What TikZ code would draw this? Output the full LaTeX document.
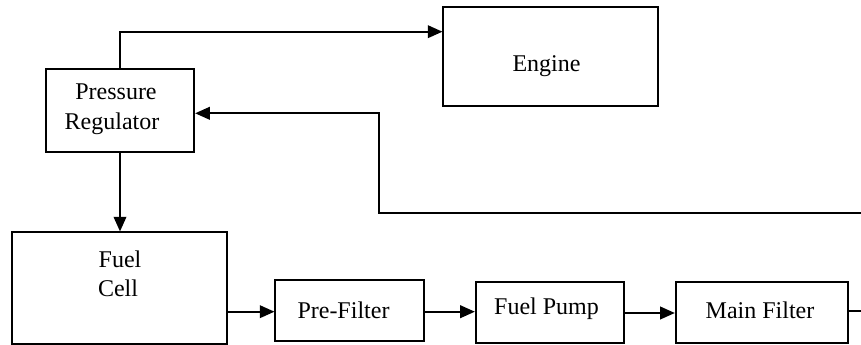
\documentclass[tikz,border=0pt]{standalone}
\usepackage{fontspec}
\setmainfont{Liberation Serif}
\usetikzlibrary{fit,arrows.meta}
\begin{document}
\begin{tikzpicture}[x=0.75pt,y=-0.75pt,
  box/.style={draw,line width=1.3pt,inner sep=0pt,rectangle},
  txt/.style={inner sep=0pt,anchor=base,font=\fontsize{18}{22.5}\selectfont},
  arr/.style={line width=1.3pt,-{Triangle[length=11pt,width=9.5pt]}},
  ln/.style={line width=1.3pt}]
\useasboundingbox (0,0) rectangle (861,345);
% boxes
\node[box,fit={(45.7,69.3) (194.3,152.3)}] (pr) {};
\node[box,fit={(443.3,6.7) (658.3,105.7)}] (eng) {};
\node[box,fit={(11.7,232.3) (226.7,344)}] (fc) {};
\node[box,fit={(275.3,280) (424.3,340.7)}] (pf) {};
\node[box,fit={(475.7,282.3) (624,343.3)}] (fp) {};
\node[box,fit={(675.7,282.3) (848.3,343.3)}] (mf) {};
% texts
\node[txt] (prt1) at (116,100) {Pressure};
\node[txt] (prt2) at (112,130) {Regulator};
\node[txt] (engt) at (546.5,72) {Engine};
\node[txt] (fct1) at (120,268) {Fuel};
\node[txt] (fct2) at (118,297) {Cell};
\node[txt] (pft) at (343.5,319) {Pre-Filter};
\node[txt] (fpt) at (546.5,315) {Fuel Pump};
\node[txt] (mft) at (760,319) {Main Filter};
% helper coordinates
\coordinate (top) at (0,31.7);
\coordinate (fbR) at (861,213.3);
\coordinate (fbX) at (379.3,113.3);
\coordinate (row) at (0,311.7);
\coordinate (row2) at (0,313);
\coordinate (mfR) at (861,311);
% connectors
\draw[arr] (pr.north) |- (eng.west |- top);
\draw[arr] (fbR) -| (fbX) -- (pr.east |- fbX);
\draw[arr] (pr.south) -- (pr.south |- fc.north);
\draw[arr] (fc.east |- row) -- (pf.west |- row);
\draw[arr] (pf.east |- row) -- (fp.west |- row);
\draw[arr] (fp.east |- row2) -- (mf.west |- row2);
\draw[ln] (mf.east |- mfR) -- (mfR);
\end{tikzpicture}
\end{document}
